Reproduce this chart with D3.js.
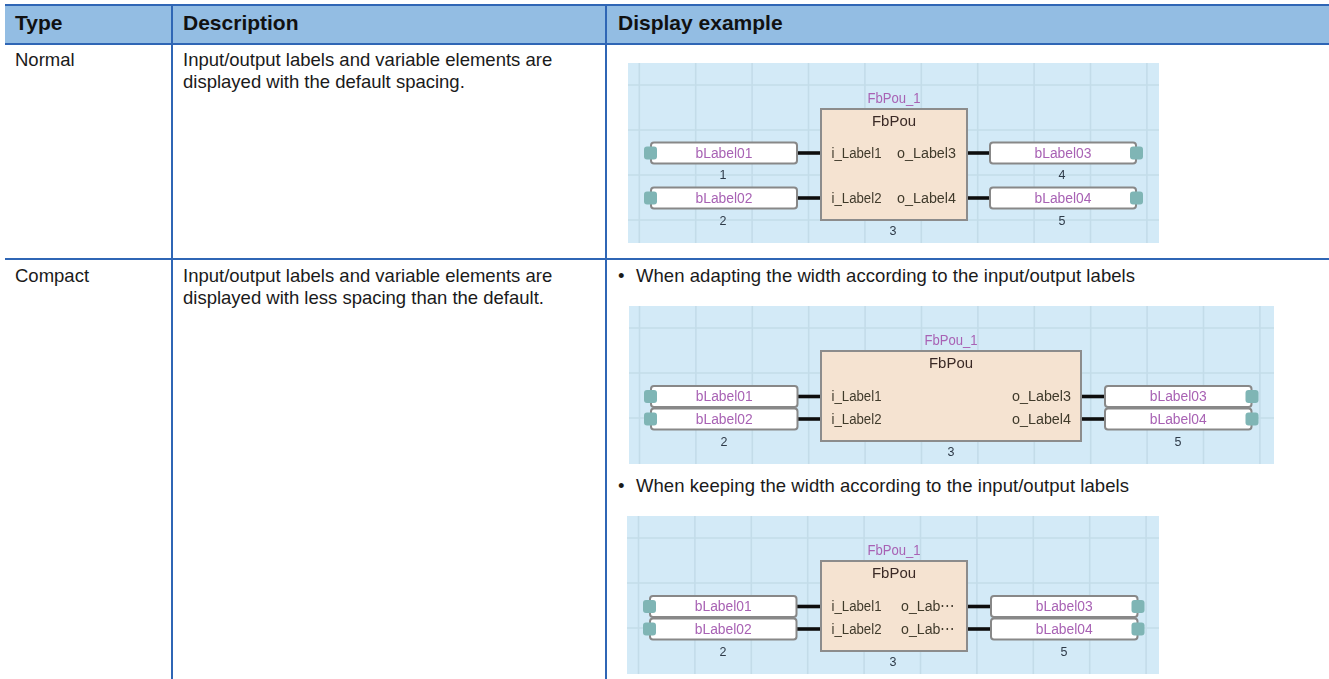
<!DOCTYPE html>
<html lang="en">
<head>
<meta charset="UTF-8">
<title>Display example table</title>
<script src="https://cdn.jsdelivr.net/npm/d3@7"></script>
<style>
    html, body { margin: 0; background: #fff; overflow: hidden; }
    .cell { font-family: "Liberation Sans", Arial, sans-serif; font-size: 18.5px; fill: #1a1a1a; }
    .head { font-family: "Liberation Sans", Arial, sans-serif; font-size: 21px; font-weight: bold; fill: #111; }
    .fbd { font-family: "Liberation Sans", Arial, sans-serif; font-size: 15.5px; }
</style>
</head>
<body>
<svg id="page" width="1329" height="679"></svg>
<script>
    // table text
    var headers = ["Type", "Description", "Display example"];
    var rowTypes = ["Normal", "Compact"];
    var rowDescriptions = [
        ["Input/output labels and variable elements are", "displayed with the default spacing."],
        ["Input/output labels and variable elements are", "displayed with less spacing than the default."]
    ];
    var notes = [
        "When adapting the width according to the input/output labels",
        "When keeping the width according to the input/output labels"
    ];

    // diagram text
    var inputVars = ["bLabel01", "bLabel02"];
    var outputVars = ["bLabel03", "bLabel04"];
    var inputPins = ["i_Label1", "i_Label2"];
    var outputPins = ["o_Label3", "o_Label4"];
    var shortPins = ["o_Lab\u22EF", "o_Lab\u22EF"];

    var svg = d3.select("#page");
    var tableBlue = "#2f66b5";

    // header band and rules
    svg.append("rect").attr("x", 5).attr("y", 5).attr("width", 1324).attr("height", 39).attr("fill", "#93bde3");
    svg.append("g").selectAll("line").data([172, 606]).join("line")
        .attr("x1", d => d).attr("x2", d => d).attr("y1", 5).attr("y2", 679)
        .attr("stroke", tableBlue).attr("stroke-width", 2);
    svg.append("g").selectAll("line").data([5, 44, 259]).join("line")
        .attr("x1", 5).attr("x2", 1329).attr("y1", d => d).attr("y2", d => d)
        .attr("stroke", tableBlue).attr("stroke-width", 2);

    var textX = [15, 183, 618];
    svg.append("g").selectAll("text").data(headers).join("text")
        .attr("class", "head").attr("x", (d, i) => textX[i]).attr("y", 30).text(d => d);

    var rowY = [66, 282];
    rowTypes.forEach(function (t, i) {
        svg.append("text").attr("class", "cell").attr("x", textX[0]).attr("y", rowY[i]).text(t);
        rowDescriptions[i].forEach(function (line, j) {
            svg.append("text").attr("class", "cell").attr("x", textX[1]).attr("y", rowY[i] + j * 22).text(line);
        });
    });

    // bullet sits apart from its text in the original
    [{y: 282, w: 499}, {y: 492, w: 493}].forEach(function (n, i) {
        svg.append("text").attr("class", "cell").attr("x", textX[2]).attr("y", n.y).text("\u2022");
        svg.append("text").attr("class", "cell").attr("x", 636).attr("y", n.y)
            .attr("textLength", n.w).attr("lengthAdjust", "spacing").text(notes[i]);
    });

    // soft edge, the originals are resampled bitmaps
    svg.append("defs").append("filter").attr("id", "soft")
        .append("feGaussianBlur").attr("stdDeviation", 0.4);

    function drawPanel(p) {
        var g = svg.append("g").attr("filter", "url(#soft)");
        g.append("rect").attr("x", p.x).attr("y", p.y).attr("width", p.w).attr("height", p.h).attr("fill", "#d3eaf7");

        // grid, one cell is 56.4 x 45
        var gx = d3.range(p.gx0, p.x + p.w - 5, 56.4);
        var gy = d3.range(p.gy0, p.y + p.h - 5, 45);
        g.selectAll(".gv").data(gx).join("line").attr("class", "gv")
            .attr("x1", d => d).attr("x2", d => d).attr("y1", p.y).attr("y2", p.y + p.h)
            .attr("stroke", "#c3dce9").attr("stroke-width", 1.6);
        g.selectAll(".gh").data(gy).join("line").attr("class", "gh")
            .attr("x1", p.x).attr("x2", p.x + p.w).attr("y1", d => d).attr("y2", d => d)
            .attr("stroke", "#c3dce9").attr("stroke-width", 1.6);

        // wires first, boxes go over them
        [0, 1].forEach(function (i) {
            g.append("line").attr("x1", p.lx + p.lw).attr("x2", p.fx).attr("y1", p.pinY[i]).attr("y2", p.pinY[i])
                .attr("stroke", "#111").attr("stroke-width", 3.6);
            g.append("line").attr("x1", p.fx + p.fw).attr("x2", p.rx).attr("y1", p.pinY[i]).attr("y2", p.pinY[i])
                .attr("stroke", "#111").attr("stroke-width", 3.6);
            varBox(g, p.lx, p.pinY[i], p.lw, inputVars[i], -1);
            varBox(g, p.rx, p.pinY[i], p.lw, outputVars[i], 1);
        });

        g.append("rect").attr("x", p.fx).attr("y", p.fy).attr("width", p.fw).attr("height", p.fh)
            .attr("fill", "#f5e3d1").attr("stroke", "#8c8c8c").attr("stroke-width", 2);

        var cx = p.fx + p.fw / 2;
        label(g, cx, p.fy - 11, p.instance, "#a862b4", "middle", 53);
        label(g, cx, p.fy + 12, "FbPou", "#3a2a26", "middle", 44);
        [0, 1].forEach(function (i) {
            label(g, p.fx + 10.5, p.pinY[i], inputPins[i], "#403a2c", "start", 50);
            label(g, p.outX, p.pinY[i], p.outPins[i], "#403a2c", p.outAnchor, p.outW);
        });

        // number labels under the elements
        p.numbers.forEach(function (n) {
            label(g, n.x, n.y, n.t, "#2e3a48", "middle", null, 12.5);
        });
    }

    function varBox(g, x, y, w, txt, side) {
        var tx = side < 0 ? x - 7 : x + w - 6;
        g.append("rect").attr("x", x).attr("y", y - 10.5).attr("width", w).attr("height", 21).attr("rx", 3)
            .attr("fill", "#fff").attr("stroke", "#888").attr("stroke-width", 2);
        g.append("rect").attr("x", tx).attr("y", y - 6.5).attr("width", 13).attr("height", 13).attr("rx", 3)
            .attr("fill", "#7fb5b5");
        label(g, x + w / 2, y, txt, "#a862b4", "middle", 57);
    }

    function label(g, x, y, txt, color, anchor, len, size) {
        var t = g.append("text").attr("class", "fbd").attr("x", x).attr("y", y).attr("dy", "0.3em")
            .attr("text-anchor", anchor).attr("fill", color).text(txt);
        if (size) t.style("font-size", size + "px");
        if (len) t.attr("textLength", len).attr("lengthAdjust", "spacingAndGlyphs");
    }

    drawPanel({
        x: 628, y: 63, w: 531, h: 180, gx0: 639.3, gy0: 85,
        lx: 651, lw: 146, rx: 990, pinY: [153, 198],
        fx: 821, fy: 109, fw: 146, fh: 111,
        instance: "FbPou_1", outX: 956, outAnchor: "end", outW: 59, outPins: outputPins,
        numbers: [{x: 723, y: 175, t: "1"}, {x: 723, y: 221, t: "2"}, {x: 893, y: 231, t: "3"}, {x: 1062, y: 175, t: "4"}, {x: 1062, y: 221, t: "5"}]
    });
    drawPanel({
        x: 629, y: 306, w: 645, h: 158, gx0: 639.5, gy0: 328,
        lx: 651, lw: 146.5, rx: 1105, pinY: [396.5, 419],
        fx: 821, fy: 351, fw: 260, fh: 90,
        instance: "FbPou_1", outX: 1071, outAnchor: "end", outW: 59, outPins: outputPins,
        numbers: [{x: 724, y: 442, t: "2"}, {x: 951, y: 452, t: "3"}, {x: 1178, y: 442, t: "5"}]
    });
    drawPanel({
        x: 627, y: 516, w: 532, h: 158, gx0: 638.5, gy0: 538,
        lx: 650, lw: 146.5, rx: 991, pinY: [606.5, 629],
        fx: 821, fy: 561, fw: 146, fh: 90,
        instance: "FbPou_1", outX: 901, outAnchor: "start", outW: 54, outPins: shortPins,
        numbers: [{x: 723, y: 652, t: "2"}, {x: 893, y: 662, t: "3"}, {x: 1064, y: 652, t: "5"}]
    });
</script>
</body>
</html>
